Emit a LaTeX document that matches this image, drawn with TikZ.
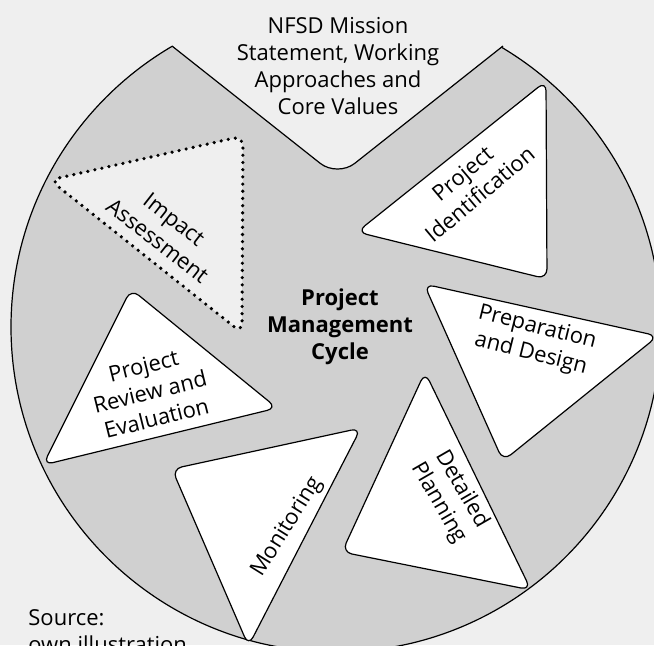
\documentclass[tikz,border=0pt]{standalone}
\usepackage{fontspec}
\setmainfont{Open Sans}
\definecolor{paper}{HTML}{EFEFEF}
\definecolor{wheel}{HTML}{D0D0D0}
\tikzset{%
  phase/.style    = {draw, fill=white, line width=0.6pt, rounded corners=5pt},%
  pending/.style  = {phase, fill=paper, line width=1.8pt, line cap=round,%
                     dash pattern=on 0pt off 3.6pt},%
  phasetext/.style= {align=center, inner sep=0pt},%
  hubtext/.style  = {phasetext, font=\fontsize{11}{13.5}\selectfont\bfseries}%
}
\begin{document}
\begin{tikzpicture}[x=0.5pt, y=-0.5pt, every node/.style = {font=\fontsize{11}{13.5}\selectfont}]%
	\fill[paper] (0,0) rectangle (654,645);%
	\clip (0,0) rectangle (654,645);%
	% wheel with the notch at the top
	\coordinate (hub) at (336,327);%
	\coordinate (notchL) at (172,46);%
	\coordinate (notchB) at (337.5,177);%
	\coordinate (notchR) at (503,46);%
	\coordinate (outL) at (106,-7);%
	\coordinate (outR) at (569,-7);%
	\fill[wheel, draw=black, line width=0.6pt] (hub) circle[radius=325];%
	\fill[paper, rounded corners=11pt] (outL) -- (notchB) -- (outR) -- cycle;%
	\draw[line width=0.6pt, rounded corners=11pt] (notchL) -- (notchB) -- (notchR);%
	% the phases
	\draw[phase] (357,232) -- (546,81) -- (547,279) -- cycle;%
	\draw[phase] (424,284) -- (658,336) -- (503,461) -- cycle;%
	\draw[phase] (425,372) -- (531,590) -- (342,552) -- cycle;%
	\draw[phase] (172,469) -- (361,428) -- (248.5,646) -- cycle;%
	\draw[phase] (131,289) -- (277,408) -- (43,465) -- cycle;%
	\draw[pending] (50,180) -- (243,136) -- (242,333) -- cycle;%
	% texts
	\node[phasetext] (values) at (338,66) {NFSD Mission\\Statement, Working\\Approaches and\\Core Values};%
	\node[hubtext] (cycle) at (340,327) {Project\\Management\\Cycle};%
	\node[phasetext, rotate=40] (ident) at (471,184) {Project\\Identification};%
	\node[phasetext, rotate=-14] (prep) at (534,341) {Preparation\\and Design};%
	\node[phasetext, rotate=-60] (plan) at (450,496) {Detailed\\Planning};%
	\node[phasetext, rotate=58] (monitor) at (287,527) {Monitoring};%
	\node[phasetext, rotate=14] (review) at (150,392) {Project\\Review and\\Evaluation};%
	\node[phasetext, rotate=-38] (impact) at (166,230) {Impact\\Assessment};%
	\node[phasetext, align=left, anchor=base west] (source) at (28,652) {Source:\\own illustration};%
\end{tikzpicture}
\end{document}
